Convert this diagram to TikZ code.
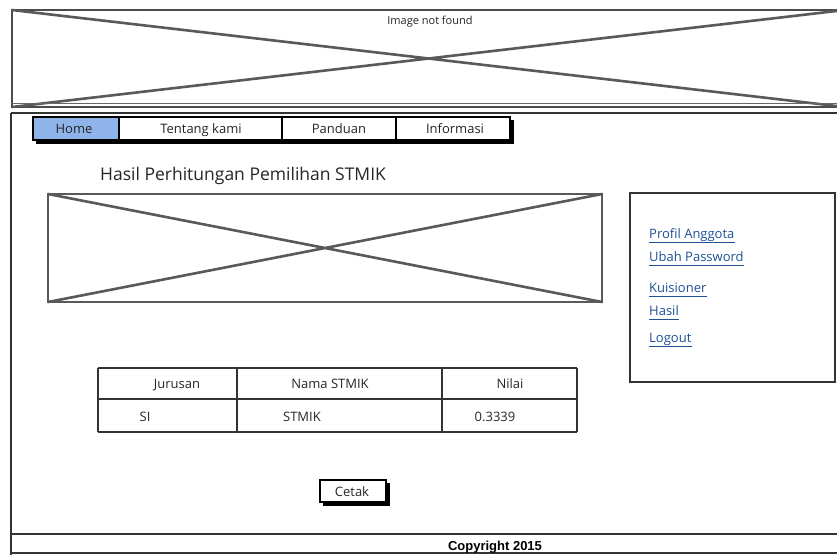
\documentclass[tikz,border=0pt]{standalone}
\usepackage{fontspec}
\usetikzlibrary{calc}
\setmainfont{Open Sans}
\newfontfamily\copyfont{Liberation Sans}
\begin{document}
\begin{tikzpicture}[x=1pt,y=-1pt,
  frame/.style={draw=black!80,line width=1.6pt},
  ph/.style={draw=black!65,line width=2.6pt},
  tab/.style={draw=black,line width=1.2pt,fill=white},
  shade/.style={fill=black},
  txt/.style={font=\fontsize{13}{15}\selectfont,text=black!85,text height=1.5ex,text depth=0.4ex},
]
\definecolor{linkblue}{RGB}{30,80,150}
\definecolor{homeblue}{RGB}{143,180,234}
\useasboundingbox (0,0) rectangle (837,555);
\fill[white] (0,0) rectangle (837,555);

% header banner placeholder
\draw[ph,draw=black!70] (12,10) rectangle (845,107);
\draw[ph] (12,10) -- (845,107) (12,107) -- (845,10);
\draw[black!60,line width=1pt] (12,103) -- (845,103);
\node[txt,font=\fontsize{11}{13}\selectfont] (hdr) at (430,22) {Image not found};

% page frame
\draw[frame] (11,113) -- (845,113);
\draw[frame] (11,113) -- (11,555);
\draw[frame] (11,534) -- (845,534);
\draw[frame] (11,553) -- (845,553);

% navigation tabs with drop shadow
\fill[shade] (36,120) rectangle (513.5,143.5);
\draw[tab,fill=homeblue] (33,117) rectangle (119,140);
\draw[tab] (119,117) rectangle (282,140);
\draw[tab] (282,117) rectangle (396,140);
\draw[tab] (396,117) rectangle (510,140);
\node[txt] (home) at (74,131) {Home};
\node[txt] (tentang) at (201,131) {Tentang kami};
\node[txt] (panduan) at (339,131) {Panduan};
\node[txt] (info) at (455,131) {Informasi};

% page title
\node[anchor=west,font=\fontsize{17.5}{20}\selectfont,text=black!85,inner sep=0pt] (title) at (100,176) {Hasil Perhitungan Pemilihan STMIK};

% chart placeholder
\draw[ph] (48,194) rectangle (602,302);
\draw[ph] (48,194) -- (602,302) (48,302) -- (602,194);

% side menu
\draw[frame,line width=2pt] (630,193) rectangle (835,382);
\foreach \y/\t/\n in {235.5/Profil Anggota/m1,258.5/Ubah Password/m2,289.5/Kuisioner/m3,312.5/Hasil/m4,339.5/Logout/m5}{
  \node[anchor=west,inner sep=0pt,font=\fontsize{13}{15}\selectfont,text=linkblue,text height=1.5ex,text depth=0.4ex] (\n) at (649,\y) {\t};
  \draw[linkblue,line width=0.9pt] ($(\n.south west)+(0,1.5)$) -- ($(\n.south east)+(0,1.5)$);
}

% result table
\draw[frame,line width=1.4pt] (98,368) -- (577,368);
\draw[frame,line width=1.4pt] (98,399) -- (577,399);
\draw[frame,line width=1.4pt] (98,432) -- (577,432);
\draw[frame,line width=1.4pt] (98,368) -- (98,432);
\draw[frame,line width=1.4pt] (237,368) -- (237,432);
\draw[frame,line width=1.4pt] (442,368) -- (442,432);
\draw[frame,line width=1.4pt] (577,368) -- (577,432);
\node[txt] (h1) at (177,386) {Jurusan};
\node[txt] (h2) at (330,386) {Nama STMIK};
\node[txt] (h3) at (510,386) {Nilai};
\node[txt] (c1) at (145,419) {SI};
\node[txt] (c2) at (302,419) {STMIK};
\node[txt] (c3) at (495,419) {0.3339};

% print button
\fill[shade] (323,483) rectangle (389.5,505.5);
\draw[tab] (320,480) rectangle (386,502);
\node[txt] (cetak) at (352,493.5) {Cetak};

% footer
\node[font=\copyfont\bfseries\fontsize{13}{15}\selectfont] (copy) at (495,547) {Copyright 2015};
\end{tikzpicture}
\end{document}
